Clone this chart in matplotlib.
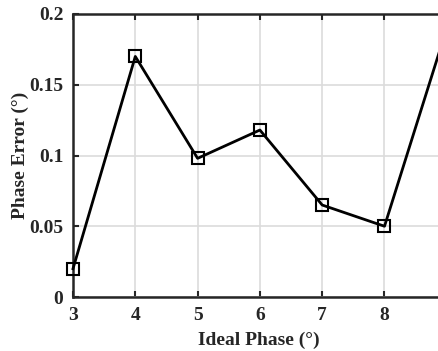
import matplotlib
matplotlib.use("Agg")
import matplotlib.pyplot as plt

# data
ideal_phase = [3, 4, 5, 6, 7, 8, 9]
phase_error = [0.020, 0.170, 0.098, 0.118, 0.065, 0.050, 0.190]
x_ticks = [3, 4, 5, 6, 7, 8, 9, 10]
x_labels = ['3', '4', '5', '6', '7', '8', '', '']  # 9 and 10 fall outside the cropped picture
y_ticks = [0, 0.05, 0.1, 0.15, 0.2]
y_labels = ['0', '0.05', '0.1', '0.15', '0.2']

plt.rcParams['font.family'] = ['Liberation Serif', 'DejaVu Serif']
plt.rcParams['font.weight'] = 'bold'

fig = plt.figure(figsize=(4.39, 3.51), dpi=100)
# axes run past the right edge of the picture (cropped original)
W, H = 439.0, 351.0
left, right, top, bottom = 73, 73 + 7 * 62.3, 14, 297
ax = fig.add_axes([left / W, 1 - bottom / H, (right - left) / W, (bottom - top) / H])

ax.plot(ideal_phase, phase_error, color='k', lw=2, marker='s', ms=8,
        mfc='none', mec='k', mew=1.5, clip_on=False, zorder=3)

ax.set_xlim(3, 10)
ax.set_ylim(0, 0.2)
ax.set_xticks(x_ticks)
ax.set_xticklabels(x_labels)
ax.set_yticks(y_ticks)
ax.set_yticklabels(y_labels)
ax.grid(True, color='#dcdcdc', lw=1.2)
ax.set_axisbelow(True)
ax.tick_params(direction='in', length=4, width=1.5, labelsize=14,
               top=True, right=True, colors='#262626', labelcolor='#262626', pad=7)
for lab in ax.get_xticklabels() + ax.get_yticklabels():
    lab.set_fontweight('bold')
for s in ax.spines.values():
    s.set_linewidth(1.8)
    s.set_color('#262626')

ax.set_xlabel('Ideal Phase (°)', fontsize=14, fontweight='bold', color='#262626', va='center')
ax.set_ylabel('Phase Error (°)', fontsize=14, fontweight='bold', color='#262626', va='center')
ax.xaxis.set_label_coords((259 - left) / (right - left), (bottom - 340) / (bottom - top))
ax.yaxis.set_label_coords((20 - left) / (right - left), (bottom - 155) / (bottom - top))

fig.savefig('out.png', dpi=100)
